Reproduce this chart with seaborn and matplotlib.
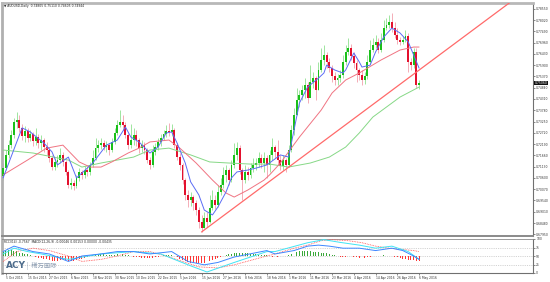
import matplotlib
matplotlib.use("Agg")
import matplotlib.pyplot as plt
import seaborn as sns
import numpy as np

sns.set_style("white")
plt.rcParams['font.family'] = ['DejaVu Sans', 'Noto Sans CJK SC']

# ---------------- data (AUDUSD daily candles) ----------------
closes = [0.7106,0.7168,0.7215,0.7262,0.7323,0.7332,0.7294,0.7257,0.7280,0.7247,
          0.7266,0.7233,0.7252,0.7224,0.7238,0.7205,0.7191,0.7153,0.7111,0.7135,
          0.7144,0.7168,0.7135,0.7088,0.7027,0.7036,0.7022,0.7059,0.7088,0.7074,
          0.7097,0.7088,0.7121,0.7153,0.7200,0.7215,0.7224,0.7205,0.7215,0.7191,
          0.7229,0.7271,0.7309,0.7323,0.7309,0.7262,0.7215,0.7238,0.7262,0.7238,
          0.7200,0.7215,0.7191,0.7144,0.7121,0.7182,0.7205,0.7229,0.7247,0.7266,
          0.7280,0.7276,0.7285,0.7215,0.7158,0.7121,0.7050,0.6980,0.6956,0.6970,
          0.6942,0.6909,0.6853,0.6824,0.6871,0.6853,0.6918,0.6956,0.6933,0.6994,
          0.7027,0.7074,0.7097,0.7050,0.7121,0.7168,0.7200,0.7097,0.7050,0.7088,
          0.7074,0.7106,0.7121,0.7130,0.7153,0.7130,0.7153,0.7121,0.7168,0.7205,
          0.7182,0.7144,0.7116,0.7144,0.7121,0.7191,0.7285,0.7356,0.7426,0.7450,
          0.7473,0.7497,0.7435,0.7511,0.7529,0.7473,0.7567,0.7614,0.7638,0.7605,
          0.7576,0.7539,0.7520,0.7529,0.7544,0.7605,0.7652,0.7670,0.7633,0.7600,
          0.7567,0.7544,0.7520,0.7539,0.7605,0.7661,0.7685,0.7699,0.7661,0.7708,
          0.7764,0.7779,0.7793,0.7764,0.7732,0.7708,0.7699,0.7708,0.7727,0.7605,
          0.7591,0.7652,0.7497,0.7506]
highs = [0.7130,0.7191,0.7238,0.7285,0.7341,0.7370,0.7356,0.7313,0.7304,0.7294,
         0.7285,0.7276,0.7294,0.7266,0.7262,0.7247,0.7229,0.7200,0.7168,0.7153,
         0.7168,0.7200,0.7182,0.7144,0.7097,0.7059,0.7050,0.7074,0.7106,0.7097,
         0.7116,0.7116,0.7135,0.7191,0.7247,0.7238,0.7247,0.7238,0.7233,0.7224,
         0.7247,0.7294,0.7332,0.7379,0.7356,0.7323,0.7271,0.7313,0.7294,0.7285,
         0.7247,0.7238,0.7229,0.7200,0.7158,0.7215,0.7224,0.7247,0.7266,0.7285,
         0.7309,0.7318,0.7313,0.7294,0.7224,0.7177,0.7130,0.7059,0.7003,0.6994,
         0.6980,0.6956,0.6923,0.6886,0.6900,0.6900,0.6980,0.7003,0.6980,0.7027,
         0.7059,0.7111,0.7121,0.7106,0.7144,0.7224,0.7229,0.7215,0.7106,0.7121,
         0.7111,0.7130,0.7153,0.7153,0.7182,0.7172,0.7182,0.7168,0.7191,0.7247,
         0.7215,0.7238,0.7168,0.7168,0.7153,0.7215,0.7309,0.7388,0.7482,0.7473,
         0.7497,0.7529,0.7511,0.7591,0.7558,0.7539,0.7605,0.7670,0.7685,0.7652,
         0.7623,0.7591,0.7558,0.7548,0.7567,0.7638,0.7685,0.7717,0.7689,0.7652,
         0.7614,0.7576,0.7567,0.7558,0.7638,0.7708,0.7717,0.7732,0.7717,0.7741,
         0.7802,0.7811,0.7826,0.7835,0.7793,0.7764,0.7722,0.7727,0.7755,0.7741,
         0.7623,0.7670,0.7670,0.7520]
lows = [0.7050,0.7097,0.7153,0.7200,0.7247,0.7294,0.7276,0.7238,0.7229,0.7229,
        0.7233,0.7210,0.7215,0.7200,0.7191,0.7182,0.7168,0.7135,0.7097,0.7097,
        0.7111,0.7130,0.7116,0.7074,0.7012,0.7008,0.7003,0.7012,0.7045,0.7055,
        0.7059,0.7069,0.7074,0.7111,0.7144,0.7182,0.7196,0.7191,0.7182,0.7168,
        0.7182,0.7219,0.7262,0.7299,0.7285,0.7247,0.7196,0.7200,0.7215,0.7210,
        0.7177,0.7182,0.7172,0.7130,0.7102,0.7111,0.7168,0.7191,0.7210,0.7238,
        0.7252,0.7257,0.7257,0.7200,0.7144,0.7097,0.7031,0.6956,0.6923,0.6928,
        0.6909,0.6886,0.6824,0.6806,0.6824,0.6829,0.6848,0.6909,0.6914,0.6923,
        0.6980,0.7012,0.7041,0.7027,0.7041,0.7106,0.7144,0.7078,0.6956,0.7036,
        0.7050,0.7059,0.7088,0.7097,0.7111,0.7106,0.7088,0.7059,0.7088,0.7144,
        0.7153,0.7121,0.7097,0.7097,0.7088,0.7111,0.7182,0.7262,0.7356,0.7393,
        0.7426,0.7435,0.7412,0.7440,0.7482,0.7426,0.7473,0.7558,0.7591,0.7576,
        0.7558,0.7511,0.7497,0.7497,0.7511,0.7529,0.7591,0.7638,0.7614,0.7576,
        0.7511,0.7520,0.7497,0.7501,0.7525,0.7595,0.7652,0.7670,0.7647,0.7652,
        0.7699,0.7755,0.7764,0.7746,0.7717,0.7689,0.7685,0.7689,0.7699,0.7558,
        0.7567,0.7576,0.7482,0.7478]
first_open = 0.7069
opens = [first_open] + closes[:-1]

# moving averages (bar index, price)
ma_fast_x = [0,7,10,15,18,20,24,27,29,33,38,42,45,47,50,54,57,60,62,64,67,69,72,74,77,79,
             82,84,86,90,93,97,102,105,107,109,112,116,118,119,122,125,126,129,131,132,135,
             137,140,143,146,149,151,153]
ma_fast_y = [0.7060,0.7295,0.7276,0.7224,0.7182,0.7121,0.7158,0.7060,0.7083,0.7130,0.7214,
             0.7238,0.7299,0.7252,0.7229,0.7177,0.7205,0.7271,0.7276,0.7224,0.7130,0.7041,
             0.6980,0.6909,0.6886,0.6923,0.6994,0.7060,0.7088,0.7097,0.7106,0.7121,0.7168,
             0.7158,0.7285,0.7412,0.7487,0.7529,0.7553,0.7590,0.7567,0.7553,0.7567,0.7647,
             0.7605,0.7581,0.7590,0.7652,0.7722,0.7764,0.7741,0.7699,0.7638,0.7576]
ma_mid_x = [0,9,16,22,28,32,36,40,46,50,54,61,65,71,77,82,85,90,96,98,102,109,117,121,126,
            131,139,146,151,153]
ma_mid_y = [0.7074,0.7144,0.7200,0.7214,0.7135,0.7111,0.7111,0.7135,0.7177,0.7200,0.7229,
            0.7238,0.7200,0.7130,0.7050,0.6989,0.6970,0.7003,0.7050,0.7074,0.7130,0.7252,
            0.7379,0.7459,0.7520,0.7553,0.7614,0.7661,0.7675,0.7675]
ma_slow_x = [0,11,24,29,36,48,54,61,69,76,83,91,98,105,113,120,126,131,136,141,146,153]
ma_slow_y = [0.7191,0.7177,0.7144,0.7111,0.7130,0.7158,0.7191,0.7200,0.7168,0.7135,0.7130,
             0.7125,0.7125,0.7111,0.7130,0.7158,0.7205,0.7271,0.7346,0.7393,0.7440,0.7487]
trend_x = [73, 187]
trend_y = [0.6806, 0.7890]

price_ticks = [0.67950,0.68480,0.69010,0.69540,0.70070,0.70600,0.71130,0.71660,0.72190,
               0.72720,0.73250,0.73780,0.74310,0.74840,0.75370,0.75900,0.76430,0.76960,
               0.77490,0.78020,0.78550]

# oscillator panel
hist = [12,16,18,18,16,14, 10,8,6,5,3,2,
        -3,-5,-6,-8,-10,-12,-14,-15,-14,-12,-10,
        -12,-14,-15,-14,-12,-10,-8,-5,
        -3,0,3,5,6,6,5,4,3,3,
        4,6,7,6,4,2,0,-2,-3,-4,
        -5,-6,-7,-6,-5,-4,-2,0,2,3,3,2,0,
        -4,-8,-12,-16,-18,-20,-22,-22,-22,-21,-20,-18,-15,
        -12,-9,-6,-3,0,3,5,7,8,9,10,10,9,8,
        7,6,5,4,3,2,2,1,-2,-3,-2,-1,-1,0,
        2,5,9,12,14,15,16,15,14,13,12,11,10,9,8,6,
        4,2,0,-2,-3,-2,-1,0,-2,-4,-6,-7,-5,-3,-2,-1,0,
        1,2,2,1,0,-1,-3,-4,-6,-8,-9,-11,-12,-13,-14,-16]
osc_cyan_x = [0,4,9,14,24,36,48,58,68,75,85,97,100,112,118,124,131,137,143,149,153]
osc_cyan_y = [56,73,63,56,40,56,63,56,24,3,31,63,63,89,98,90,82,73,79,63,40]
osc_blue_x = [0,4,11,17,24,29,36,42,48,54,62,68,74,79,85,97,100,107,112,116,120,125,131,137,
              143,147,151,153]
osc_blue_y = [63,79,63,56,34,50,56,63,63,56,63,34,24,31,47,66,56,66,79,82,79,73,73,66,73,66,
              50,40]
osc_red_x = [0,5,11,17,24,29,36,42,48,54,60,66,72,79,85,97,100,107,112,117,121,127,132,137,
             142,147,151,153]
osc_red_y = [34,63,73,66,50,34,40,50,63,63,50,34,18,15,24,50,56,73,82,95,98,95,89,79,73,69,
             66,63]
osc_levels = [25, 50, 75]
osc_ticks = [0, 25, 50, 75, 100]

date_pos = [1,9,17,25,33,41,49,57,65,73,81,89,97,105,113,121,129,137,145,153]
date_labels = ["5 Oct 2015","15 Oct 2015","27 Oct 2015","6 Nov 2015","18 Nov 2015",
               "30 Nov 2015","10 Dec 2015","22 Dec 2015","5 Jan 2016","15 Jan 2016",
               "27 Jan 2016","8 Feb 2016","18 Feb 2016","1 Mar 2016","11 Mar 2016",
               "23 Mar 2016","4 Apr 2016","14 Apr 2016","26 Apr 2016","6 May 2016"]

title_text = "AUDUSD,Daily  0.74805 0.75110 0.74605 0.74944"
osc_text = "RCCI(14) -0.7567  MACD(12,26,9) -0.00046 0.00153 0.00000 -0.00435"

# ---------------- figure ----------------
UP = "#19c019"
DOWN = "#e3112e"
UP_W = "#8fe08f"
DOWN_W = "#f2a0ac"
FS = 2.15

fig = plt.figure(figsize=(5.5, 2.82), dpi=100)
fig.patch.set_facecolor("white")
ax = fig.add_axes([2/550, 1-236/282, 531/550, 233/282])
ax2 = fig.add_axes([2/550, 1-273/282, 531/550, 34/282], sharex=ax)

n = len(closes)
xs = np.arange(n)
o = np.array(opens)
c = np.array(closes)
h = np.array(highs)
l = np.array(lows)
up = c >= o
ax.vlines(xs[up], l[up], h[up], colors=UP_W, lw=0.6, zorder=2)
ax.vlines(xs[~up], l[~up], h[~up], colors=DOWN_W, lw=0.6, zorder=2)
body = np.maximum(np.abs(c - o), 0.00025)
ax.bar(xs[up], body[up], bottom=np.minimum(o, c)[up], width=0.7, color=UP, lw=0, zorder=3)
ax.bar(xs[~up], body[~up], bottom=np.minimum(o, c)[~up], width=0.7, color=DOWN, lw=0, zorder=3)

sns.lineplot(x=ma_slow_x, y=ma_slow_y, ax=ax, color="#86d886", lw=0.7, sort=False,
             estimator=None, zorder=4)
sns.lineplot(x=ma_mid_x, y=ma_mid_y, ax=ax, color="#f07482", lw=0.7, sort=False,
             estimator=None, zorder=4)
sns.lineplot(x=ma_fast_x, y=ma_fast_y, ax=ax, color="#5b6cf5", lw=0.7, sort=False,
             estimator=None, zorder=5)
sns.lineplot(x=trend_x, y=trend_y, ax=ax, color="#ff6a6a", lw=0.9, sort=False,
             estimator=None, zorder=4)

ax.set_xlim(-0.4, 194.9)
ax.set_ylim(0.6787, 0.7882)
ax.yaxis.tick_right()
ax.set_yticks(price_ticks)
ax.set_yticklabels([f"{v:.5f}" for v in price_ticks])
ax.tick_params(axis='y', which='both', right=True, length=1.5, width=0.4, pad=0.8,
               labelsize=FS, colors="#333333")
ax.tick_params(axis='x', bottom=False, labelbottom=False)
ax.set_xlabel("")
ax.set_ylabel("")
for side, sp in ax.spines.items():
    sp.set_visible(True)
ax.spines['left'].set_color("#b0b0b0"); ax.spines['left'].set_linewidth(2)
ax.spines['top'].set_color("#b8b8b8"); ax.spines['top'].set_linewidth(2)
ax.spines['right'].set_color("#707070"); ax.spines['right'].set_linewidth(0.8)
ax.spines['bottom'].set_color("#8a8a8a"); ax.spines['bottom'].set_linewidth(1.4)

ax.text(0.004, 0.995, "\u25bc " + title_text, transform=ax.transAxes, fontsize=FS,
        va='top', ha='left', color="#222222")
ax.text(1.003, closes[-1], f"{closes[-1]:.5f}", transform=ax.get_yaxis_transform(),
        fontsize=FS, va='center', ha='left', color="white",
        bbox=dict(boxstyle="square,pad=0.12", fc="#111111", ec="none"))

# ---------------- oscillator ----------------
hx = np.arange(len(hist))
hv = np.array(hist)
pos = hv >= 0
ax2.bar(hx[pos], hv[pos], bottom=50, width=0.35, color="#3aa83a", lw=0, zorder=3)
ax2.bar(hx[~pos], hv[~pos], bottom=50, width=0.35, color="#ff3535", lw=0, zorder=3)
for lv in osc_levels:
    ax2.axhline(lv, color="#b0b0b0", lw=0.4, ls=(0, (2, 2)), zorder=1)
sns.lineplot(x=osc_red_x, y=osc_red_y, ax=ax2, color="#ff5050", lw=0.6, ls=(0, (1, 1)),
             sort=False, estimator=None, zorder=4)
sns.lineplot(x=osc_cyan_x, y=osc_cyan_y, ax=ax2, color="#40e4f4", lw=0.7, sort=False,
             estimator=None, zorder=4)
sns.lineplot(x=osc_blue_x, y=osc_blue_y, ax=ax2, color="#3d86ff", lw=0.7, sort=False,
             estimator=None, zorder=5)
ax2.set_ylim(0, 100)
ax2.yaxis.tick_right()
ax2.set_yticks(osc_ticks)
ax2.set_yticklabels([str(t) for t in osc_ticks])
ax2.tick_params(axis='y', right=True, length=1.5, width=0.4, pad=0.8, labelsize=FS,
                colors="#333333")
ax2.set_xticks(date_pos)
ax2.set_xticklabels(date_labels)
ax2.tick_params(axis='x', bottom=True, length=1.2, width=0.4, pad=0.8, labelsize=FS,
                colors="#333333")
for lab in ax2.get_xticklabels():
    lab.set_ha('left')
ax2.set_xlabel("")
ax2.set_ylabel("")
for side, sp in ax2.spines.items():
    sp.set_visible(True)
ax2.spines['left'].set_color("#b0b0b0"); ax2.spines['left'].set_linewidth(2)
ax2.spines['top'].set_color("#8a8a8a"); ax2.spines['top'].set_linewidth(0.6)
ax2.spines['right'].set_color("#707070"); ax2.spines['right'].set_linewidth(0.8)
ax2.spines['bottom'].set_color("#707070"); ax2.spines['bottom'].set_linewidth(0.8)

ax2.text(0.004, 0.97, osc_text, transform=ax2.transAxes, fontsize=FS, va='top',
         ha='left', color="#222222")
ax2.text(0.008, 0.10, "ACY", transform=ax2.transAxes, fontsize=6.5, fontweight='bold',
         color="#4d6c8c", va='bottom', ha='left', family=['DejaVu Sans'])
ax2.text(0.048, 0.10, "|  稀万国际", transform=ax2.transAxes, fontsize=4.5,
         color="#8a9bb0", va='bottom', ha='left', family=['Noto Sans CJK SC', 'DejaVu Sans'])

fig.savefig("out.png", dpi=100, facecolor="white")
